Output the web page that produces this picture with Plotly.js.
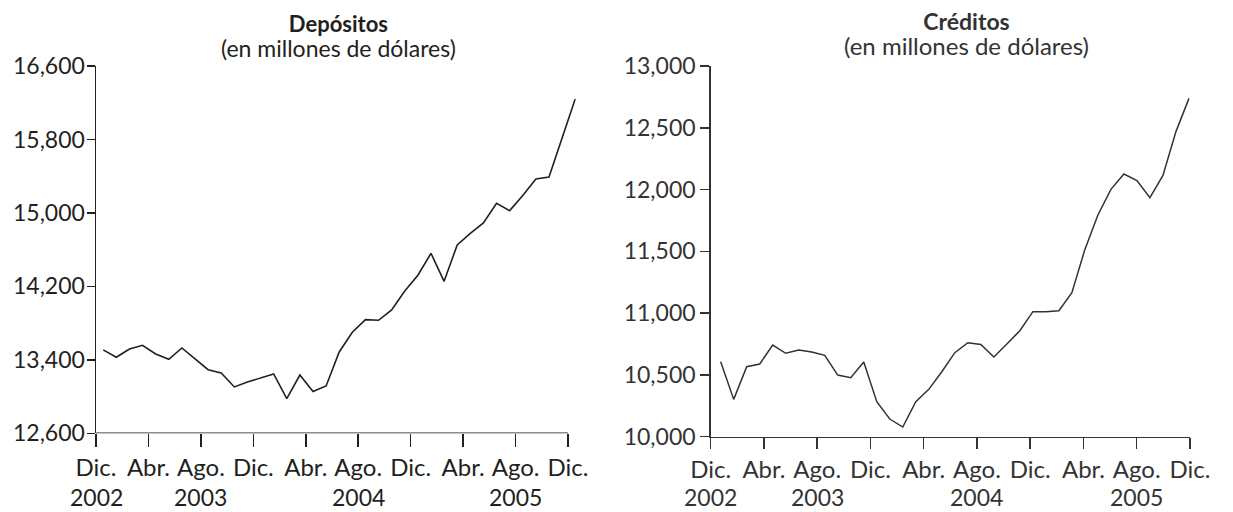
<!DOCTYPE html>
<html>
<head>
<meta charset="utf-8">
<script src="https://cdn.plot.ly/plotly-3.0.1.min.js"></script>
<style>
  html, body { margin: 0; padding: 0; background: #ffffff; }
  #chart { width: 1233px; height: 512px; }
</style>
</head>
<body>
<div id="chart"></div>
<script>
// Month index from Dic. 2002 (0) to Dic. 2005 (36)
const months = [0,1,2,3,4,5,6,7,8,9,10,11,12,13,14,15,16,17,18,19,20,21,22,23,24,25,26,27,28,29,30,31,32,33,34,35,36];

// Depósitos (millones de dólares)
const depositos = [13508,13428,13518,13558,13464,13406,13529,13413,13293,13257,13105,13159,13199,13246,
  12978,13235,13054,13115,13486,13700,13838,13831,13943,14150,14321,14560,14255,14651,14778,14891,
  15105,15025,15190,15370,15391,15816,16241];

// Créditos (millones de dólares)
const creditos = [10607,10302,10567,10588,10742,10675,10701,10685,10658,10499,10478,10604,10283,10143,
  10078,10283,10383,10526,10680,10761,10747,10645,10750,10858,11012,11012,11020,11166,11516,11794,
  12002,12126,12072,11934,12115,12469,12738];

// Tick labels
const tickMonths = [0,4,8,12,16,20,24,28,32,36];
const tickText = ['Dic.','Abr.','Ago.','Dic.','Abr.','Ago.','Dic.','Abr.','Ago.','Dic.'];
const yearLabels = ['2002','2003','2004','2005'];
const yearTicks = [0,8,20,32];
const depTicks = [12600,13400,14200,15000,15800,16600];
const credTicks = [10000,10500,11000,11500,12000,12500,13000];

const FONT = 'Lato, "Open Sans", sans-serif';
const INK_L = '#231f20';
const INK_R = '#333333';

const traces = [
  {
    x: months.map(m => m + 0.55), y: depositos, type: 'scatter', mode: 'lines',
    line: {color: INK_L, width: 1.6}, xaxis: 'x', yaxis: 'y', hoverinfo: 'skip'
  },
  {
    x: months.map(m => 0.75 + m * 0.977), y: creditos, type: 'scatter', mode: 'lines',
    line: {color: INK_R, width: 1.5}, xaxis: 'x2', yaxis: 'y2', hoverinfo: 'skip'
  }
];

const W = 1233, H = 512;
const px = v => v / W;
const py = v => 1 - v / H;

const annotations = [];
annotations.push({xref:'paper', yref:'paper', x: px(338), y: py(36),
  text:'<b><span style="font-size:22px">Depósitos</span></b><br><span style="font-size:23px">(en millones de dólares)</span>',
  showarrow:false, xanchor:'center', yanchor:'middle', align:'center',
  font:{family:FONT, size:19, color:INK_L}});
annotations.push({xref:'paper', yref:'paper', x: px(966), y: py(33),
  text:'<b><span style="font-size:23px">Créditos</span></b><br><span style="font-size:24px">(en millones de dólares)</span>',
  showarrow:false, xanchor:'center', yanchor:'middle', align:'center',
  font:{family:FONT, size:19, color:INK_R}});
yearLabels.forEach((t, i) => {
  annotations.push({xref:'x', yref:'paper', x: yearTicks[i], y: py(497), text:t, showarrow:false,
    xanchor:'center', yanchor:'middle', font:{family:FONT, size:23, color:INK_L}});
  annotations.push({xref:'x2', yref:'paper', x: yearTicks[i], y: py(497), text:t, showarrow:false,
    xanchor:'center', yanchor:'middle', font:{family:FONT, size:23, color:INK_R}});
});

const layout = {
  width: W, height: H,
  margin: {l:0, r:0, t:0, b:0},
  paper_bgcolor: '#ffffff', plot_bgcolor: '#ffffff',
  showlegend: false,
  font: {family: FONT},
  xaxis: {
    domain: [px(96), px(96 + 36.6 * (472 / 36))], range: [0, 36.6],
    tickvals: tickMonths, ticktext: tickText, ticks: 'outside', ticklen: 13, tickwidth: 1.5, tickcolor: INK_L,
    showline: false, zeroline: false, showgrid: false, fixedrange: true,
    tickfont: {family: FONT, size: 24, color: INK_L}, anchor: 'y'
  },
  yaxis: {
    domain: [py(433.3), py(66)], range: [12600, 16600],
    tickvals: depTicks, tickformat: ',d', ticks: 'outside', ticklen: 8, tickwidth: 1.5, tickcolor: INK_L,
    showline: true, linewidth: 1.5, linecolor: INK_L, zeroline: false, showgrid: false, fixedrange: true,
    tickfont: {family: FONT, size: 23, color: INK_L}, anchor: 'x', ticklabelstandoff: -3
  },
  xaxis2: {
    domain: [px(710.7), px(1190)], range: [0, 36],
    tickvals: tickMonths, ticktext: tickText, ticks: 'outside', ticklen: 11, tickwidth: 1.5, tickcolor: INK_R,
    showline: true, linewidth: 1.5, linecolor: INK_R, zeroline: false, showgrid: false, fixedrange: true,
    tickfont: {family: FONT, size: 24, color: INK_R}, anchor: 'y2', ticklabelstandoff: 0
  },
  yaxis2: {
    domain: [py(436.7), py(66)], range: [10000, 13000],
    tickvals: credTicks, tickformat: ',d', ticks: 'outside', ticklen: 9, tickwidth: 1.5, tickcolor: INK_R,
    showline: true, linewidth: 1.5, linecolor: INK_R, zeroline: false, showgrid: false, fixedrange: true,
    tickfont: {family: FONT, size: 23, color: INK_R}, anchor: 'x2', ticklabelstandoff: 0
  },
  shapes: [
    {type:'line', xref:'x', yref:'y', x0:0, x1:36, y0:12600, y1:12600, line:{color:INK_L, width:1.5}}
  ],
  annotations: annotations
};

Plotly.newPlot('chart', traces, layout, {displayModeBar: false, staticPlot: true});
</script>
</body>
</html>
